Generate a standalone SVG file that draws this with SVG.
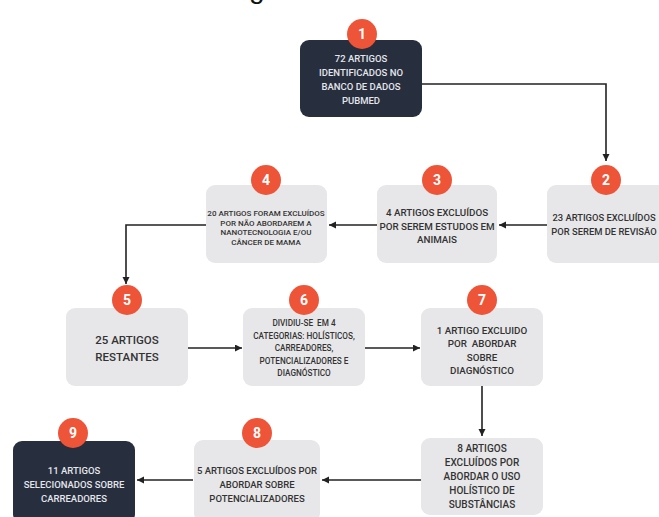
<svg xmlns="http://www.w3.org/2000/svg" width="659" height="517" viewBox="0 0 659 517">
<defs>
<style>
.lb{fill:#e7e7e9}
.db{fill:#272e3e}
.bd{fill:#ee5437}
.bn{font-family:Roboto,"Liberation Sans",sans-serif;font-weight:700;font-size:14px;fill:#fff;text-anchor:middle}
.t{font-family:Roboto,"Liberation Sans",sans-serif;font-weight:500;fill:#333;text-anchor:middle}
.tw{font-family:Roboto,"Liberation Sans",sans-serif;font-weight:500;fill:#e4e6ec;text-anchor:middle}
.c{fill:none;stroke:#222;stroke-width:1.6}
</style>
<marker id="ah" markerUnits="userSpaceOnUse" markerWidth="8" markerHeight="8" refX="7" refY="3.5" orient="auto">
<path d="M0,0 L7,3.5 L0,7 z" fill="#222"/>
</marker>
</defs>
<rect width="659" height="517" fill="#fff"/>
<text x="249" y="-2" font-family="Liberation Sans,sans-serif" font-size="28" fill="#111">g</text>

<g id="connectors">
<path class="c" d="M422,84 H606 V161" marker-end="url(#ah)"/>
<path class="c" d="M547,225 H499" marker-end="url(#ah)"/>
<path class="c" d="M377,225 H329" marker-end="url(#ah)"/>
<path class="c" d="M206,225 H126 V284" marker-end="url(#ah)"/>
<path class="c" d="M188,348 H242" marker-end="url(#ah)"/>
<path class="c" d="M365,348 H420" marker-end="url(#ah)"/>
<path class="c" d="M482,386 V436" marker-end="url(#ah)"/>
<path class="c" d="M421,480 H322" marker-end="url(#ah)"/>
<path class="c" d="M193,480 H137" marker-end="url(#ah)"/>
</g>

<g id="n1">
<rect class="db" x="300" y="40" width="122" height="77" rx="9"/>
<circle class="bd" cx="362" cy="34" r="15"/>
<text class="bn" x="362" y="39">1</text>
<text class="tw" font-size="9.5"><tspan x="361" y="62">72 ARTIGOS</tspan><tspan x="361" y="76">IDENTIFICADOS NO</tspan><tspan x="361" y="90">BANCO DE DADOS</tspan><tspan x="361" y="104">PUBMED</tspan></text>
</g>

<g id="n2">
<rect class="lb" x="547" y="185" width="122" height="78" rx="9"/>
<circle class="bd" cx="606" cy="180" r="15"/>
<text class="bn" x="606" y="185">2</text>
<text class="t" font-size="9.4"><tspan x="604" y="221">23 ARTIGOS EXCLUÍDOS</tspan><tspan x="604" y="235">POR SEREM DE REVISÃO</tspan></text>
</g>

<g id="n3">
<rect class="lb" x="377" y="185" width="120" height="78" rx="9"/>
<circle class="bd" cx="437" cy="180" r="15"/>
<text class="bn" x="437" y="185">3</text>
<text class="t" font-size="9.8"><tspan x="437" y="216">4 ARTIGOS EXCLUÍDOS</tspan><tspan x="437" y="229.5">POR SEREM ESTUDOS EM</tspan><tspan x="437" y="243">ANIMAIS</tspan></text>
</g>

<g id="n4">
<rect class="lb" x="206" y="185" width="121" height="78" rx="9"/>
<circle class="bd" cx="266" cy="180" r="15"/>
<text class="bn" x="266" y="185">4</text>
<text class="t" font-size="8"><tspan x="266" y="216">20 ARTIGOS FORAM EXCLUÍDOS</tspan><tspan x="266" y="225.5">POR NÃO ABORDAREM A</tspan><tspan x="266" y="235">NANOTECNOLOGIA E/OU</tspan><tspan x="266" y="244.5">CÂNCER DE MAMA</tspan></text>
</g>

<g id="n5">
<rect class="lb" x="66" y="308" width="122" height="78" rx="9"/>
<circle class="bd" cx="127" cy="300" r="15"/>
<text class="bn" x="127" y="305">5</text>
<text class="t" font-size="11.5" font-weight="400" fill="#2a2a2a"><tspan x="127" y="344">25 ARTIGOS</tspan><tspan x="127" y="361">RESTANTES</tspan></text>
</g>

<g id="n6">
<rect class="lb" x="243" y="308" width="122" height="78" rx="9"/>
<circle class="bd" cx="304" cy="300" r="15"/>
<text class="bn" x="304" y="305">6</text>
<text class="t" font-size="8.2"><tspan x="304" y="326">DIVIDIU-SE&#160; EM 4</tspan><tspan x="304" y="338.5">CATEGORIAS: HOLÍSTICOS,</tspan><tspan x="304" y="351">CARREADORES,</tspan><tspan x="304" y="363.5">POTENCIALIZADORES E</tspan><tspan x="304" y="376">DIAGNÓSTICO</tspan></text>
</g>

<g id="n7">
<rect class="lb" x="421" y="308" width="122" height="78" rx="9"/>
<circle class="bd" cx="482" cy="300" r="15"/>
<text class="bn" x="482" y="305">7</text>
<text class="t" font-size="9.8"><tspan x="482" y="333.5">1 ARTIGO EXCLUIDO</tspan><tspan x="482" y="347">POR&#160; ABORDAR</tspan><tspan x="482" y="360.5">SOBRE</tspan><tspan x="482" y="374">DIAGNÓSTICO</tspan></text>
</g>

<g id="n7b">
<rect class="lb" x="421" y="438" width="122" height="77" rx="9"/>
<text class="t" font-size="10"><tspan x="482" y="452">8 ARTIGOS</tspan><tspan x="482" y="466">EXCLUÍDOS POR</tspan><tspan x="482" y="480">ABORDAR O USO</tspan><tspan x="482" y="494">HOLÍSTICO DE</tspan><tspan x="482" y="508">SUBSTÂNCIAS</tspan></text>
</g>

<g id="n8">
<rect class="lb" x="194" y="440" width="126" height="82" rx="9"/>
<circle class="bd" cx="257" cy="433" r="15"/>
<text class="bn" x="257" y="438">8</text>
<text class="t" font-size="9.5"><tspan x="257" y="474">5 ARTIGOS EXCLUÍDOS POR</tspan><tspan x="257" y="488">ABORDAR SOBRE</tspan><tspan x="257" y="502">POTENCIALIZADORES</tspan></text>
</g>

<g id="n9">
<rect class="db" x="13" y="441" width="122" height="82" rx="9"/>
<circle class="bd" cx="73" cy="433" r="15"/>
<text class="bn" x="73" y="438">9</text>
<text class="tw" font-size="9.5"><tspan x="74" y="474">11 ARTIGOS</tspan><tspan x="74" y="488">SELECIONADOS SOBRE</tspan><tspan x="74" y="502">CARREADORES</tspan></text>
</g>
</svg>
